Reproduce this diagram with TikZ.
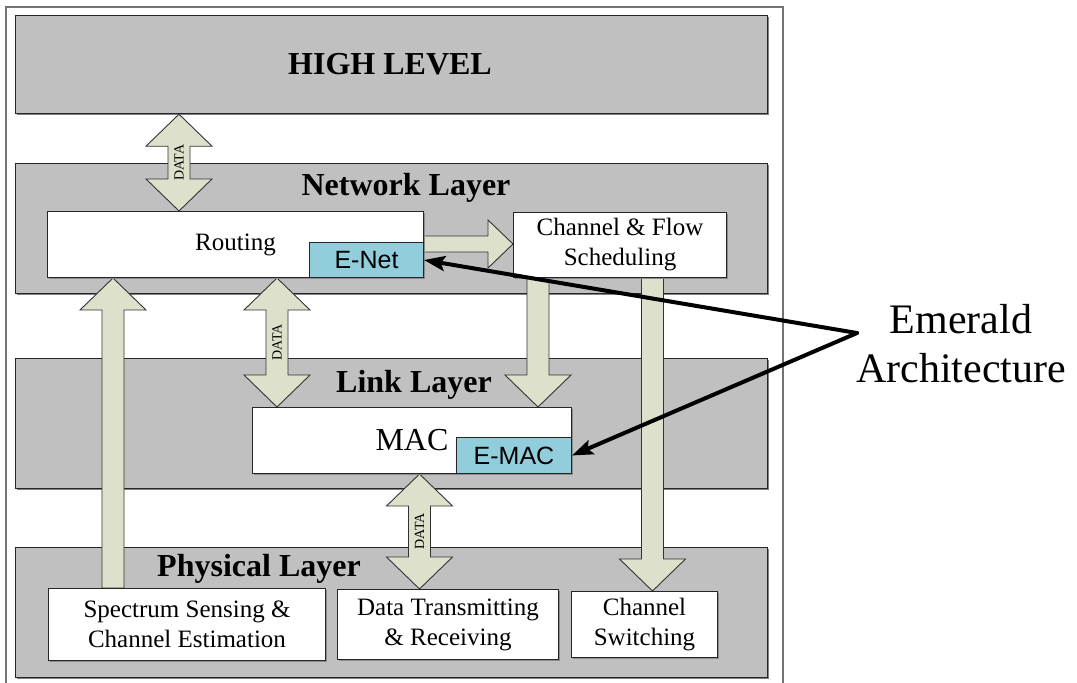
\documentclass[tikz,border=0pt]{standalone}
\usepackage{fontspec}
\setmainfont{Liberation Serif}
\newfontfamily\arialfont{Liberation Sans}
\usetikzlibrary{arrows.meta,shadows,calc}

\definecolor{layergray}{RGB}{192,192,192}
\definecolor{arrowfill}{RGB}{221,225,203}
\definecolor{emcyan}{RGB}{146,205,220}

\pgfdeclarelayer{background}
\pgfdeclarelayer{arrows}
\pgfsetlayers{background,arrows,main}

\tikzset{
  layer/.style={draw=black!85, line width=1.2pt, fill=layergray, anchor=north west,
    inner sep=0pt, minimum width=752pt,
    general shadow={fill=black!50, shadow xshift=1.2pt, shadow yshift=-1.2pt}},
  layertitle/.style={anchor=base, inner sep=0pt, font=\bfseries\fontsize{32}{38}\selectfont},
  box/.style={draw=black!85, line width=1pt, fill=white, anchor=north west, inner sep=0pt,
    align=center, font=\fontsize{25}{30}\selectfont,
    general shadow={fill=black!45, shadow xshift=1.2pt, shadow yshift=-1.2pt}},
  ebox/.style={draw=black!85, line width=1pt, fill=emcyan, anchor=north west, inner sep=0pt,
    font=\arialfont\fontsize{25}{30}\selectfont},
  blockarrow/.style={draw=black!80, line width=0.9pt, fill=arrowfill, line join=miter},
  datalabel/.style={rotate=90, inner sep=0pt, font=\fontsize{14}{16}\selectfont},
  emtext/.style={anchor=base, inner sep=0pt, font=\fontsize{42}{49}\selectfont},
  pointer/.style={line width=4pt, line cap=round,
    -{Stealth[length=21pt,width=15pt,inset=4pt]}},
  frame/.style={draw=black!55, line width=1.2pt}
}

% vertical two-headed block arrow: #1 x centre, #2 upper end, #3 lower end, #4 label name
\newcommand\vdouble[4]{%
  \filldraw[blockarrow] let \p1=#2, \p2=#3 in
    ({#1pt},\y1) -- ({#1pt+33pt},{\y1-32pt}) -- ({#1pt+11pt},{\y1-32pt})
    -- ({#1pt+11pt},{\y2+32pt}) -- ({#1pt+33pt},{\y2+32pt}) -- ({#1pt},\y2)
    -- ({#1pt-33pt},{\y2+32pt}) -- ({#1pt-11pt},{\y2+32pt})
    -- ({#1pt-11pt},{\y1-32pt}) -- ({#1pt-33pt},{\y1-32pt}) -- cycle
    ({#1pt},{0.5*\y1+0.5*\y2}) node[datalabel] (#4) {DATA};
}
% vertical block arrow pointing up: #1 x centre, #2 tip end, #3 tail end
\newcommand\vup[3]{%
  \filldraw[blockarrow] let \p1=#2, \p2=#3 in
    ({#1pt},\y1) -- ({#1pt+33pt},{\y1-32pt}) -- ({#1pt+11pt},{\y1-32pt})
    -- ({#1pt+11pt},\y2) -- ({#1pt-11pt},\y2)
    -- ({#1pt-11pt},{\y1-32pt}) -- ({#1pt-33pt},{\y1-32pt}) -- cycle;
}
% vertical block arrow pointing down: #1 x centre, #2 tail end, #3 tip end
\newcommand\vdown[3]{%
  \filldraw[blockarrow] let \p1=#2, \p2=#3 in
    ({#1pt-11pt},\y1) -- ({#1pt+11pt},\y1) -- ({#1pt+11pt},{\y2+32pt})
    -- ({#1pt+33pt},{\y2+32pt}) -- ({#1pt},\y2) -- ({#1pt-33pt},{\y2+32pt})
    -- ({#1pt-11pt},{\y2+32pt}) -- cycle;
}
% horizontal block arrow pointing right: #1 y centre, #2 tail end, #3 tip end
\newcommand\hright[3]{%
  \filldraw[blockarrow] let \p1=#2, \p2=#3 in
    (\x1,{-#1pt+8pt}) -- ({\x2-25pt},{-#1pt+8pt}) -- ({\x2-25pt},{-#1pt+24pt})
    -- (\x2,{-#1pt}) -- ({\x2-25pt},{-#1pt-24pt}) -- ({\x2-25pt},{-#1pt-8pt})
    -- (\x1,{-#1pt-8pt}) -- cycle;
}

\begin{document}
\begin{tikzpicture}[x=1pt,y=-1pt]
\useasboundingbox (0,0) rectangle (1077,683);

% outer frame and the four layers
\begin{pgfonlayer}{background}
\draw[frame] (6,7) rectangle (783,690);
\node[layer, minimum height=98pt]  (high) at (15,15)  {};
\node[layer, minimum height=130pt] (net)  at (15,163) {};
\node[layer, minimum height=130pt] (link) at (15,358) {};
\node[layer, minimum height=130pt] (phy)  at (15,547) {};
\end{pgfonlayer}

\node[layertitle] (hightitle) at (390,74)  {HIGH LEVEL};
\node[layertitle] (nettitle)  at (406,195) {Network Layer};
\node[layertitle] (linktitle) at (414,392) {Link Layer};
\node[layertitle] (phytitle)  at (259,576) {Physical Layer};

% functional blocks
\node[box, minimum width=376pt, minimum height=66pt] (routing) at (47,211) {Routing};
\node[box, minimum width=213pt, minimum height=65pt] (sched) at (513,212) {Channel \& Flow\\Scheduling};
\node[ebox, minimum width=114pt, minimum height=35pt] (enet) at (309,242) {E-Net};
\node[box, font=\fontsize{32}{38}\selectfont, minimum width=319pt, minimum height=66pt] (mac) at (252,407) {MAC};
\node[ebox, minimum width=115pt, minimum height=36pt] (emac) at (456,437) {E-MAC};
\node[box, minimum width=277pt, minimum height=72pt] (sense) at (48,588) {Spectrum Sensing \&\\Channel Estimation};
\node[box, minimum width=221pt, minimum height=70pt] (trx) at (337,589) {Data Transmitting\\\& Receiving};
\node[box, minimum width=146pt, minimum height=66pt] (switch) at (571,591) {Channel\\Switching};

% block arrows between layers
\begin{pgfonlayer}{arrows}
\vdouble{179}{(high.south)}{(routing.north)}{data1}
\vdouble{277}{(routing.south)}{(mac.north)}{data2}
\vdouble{419.5}{(mac.south)}{(trx.north)}{data3}
\vup{113}{(routing.south)}{(sense.north)}
\vdown{538}{(sched.south)}{(mac.north)}
\vdown{652.5}{(sched.south)}{(switch.north)}
\hright{244}{(routing.east)}{(sched.west)}
\end{pgfonlayer}

% Emerald annotation
\node[emtext] (emerald) at (961,333) {Emerald};
\node[emtext] (architecture) at (961,382) {Architecture};
\coordinate (fork) at (857,333);
\draw[pointer] (fork) -- (enet.east);
\draw[pointer] (fork) -- (emac.east);
\end{tikzpicture}
\end{document}
